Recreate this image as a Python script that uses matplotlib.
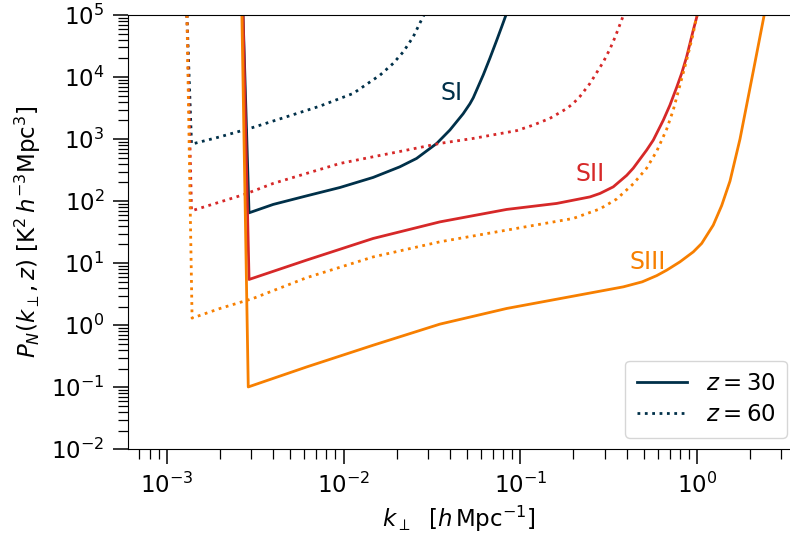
import matplotlib
matplotlib.use("Agg")
import matplotlib.pyplot as plt
from matplotlib.lines import Line2D

# ---- data ----
k_SI_30 = [2.70e-3, 2.92e-3, 4.00e-3, 6.18e-3, 9.55e-3, 1.47e-2, 2.08e-2, 2.59e-2, 3.37e-2,
           4.00e-2, 4.75e-2, 5.19e-2, 5.42e-2, 6.18e-2, 6.74e-2, 7.35e-2, 7.85e-2, 8.30e-2]
P_SI_30 = [1e5, 64.8, 88.5, 121.6, 166, 241, 357, 488, 853,
           1403, 2560, 3715, 4630, 10900, 20300, 38900, 64600, 1e5]

k_SI_60 = [1.30e-3, 1.38e-3, 2.00e-3, 3.08e-3, 4.76e-3, 7.35e-3, 1.135e-2, 1.61e-2, 1.91e-2,
           2.18e-2, 2.48e-2, 2.70e-2, 2.85e-2]
P_SI_60 = [1e5, 830, 1089, 1545, 2291, 3404, 5458, 10770, 16630,
           25590, 44670, 73500, 1e5]

k_SII_30 = [2.70e-3, 2.92e-3, 6.18e-3, 1.47e-2, 3.51e-2, 8.38e-2, 0.1607, 0.248, 0.2825, 0.336,
            0.400, 0.436, 0.519, 0.566, 0.645, 0.703, 0.767, 0.819, 0.874, 0.953, 1.004]
P_SII_30 = [1e5, 5.46, 11.2, 25.0, 46.3, 73.5, 91.8, 117, 133, 170,
            260, 340, 665, 964, 2023, 3532, 6800, 11480, 21230, 57300, 1e5]

k_SII_60 = [1.30e-3, 1.38e-3, 2.74e-3, 4.00e-3, 6.18e-3, 9.55e-3, 1.47e-2, 2.28e-2, 3.51e-2,
            5.42e-2, 9.55e-2, 0.1185, 0.147, 0.183, 0.1995, 0.218, 0.248, 0.295, 0.322, 0.344,
            0.384]
P_SII_60 = [1e5, 69.8, 128, 193, 280, 405, 519, 665, 853,
            1026, 1371, 1683, 2158, 3100, 3767, 4900, 7907, 17500, 28500, 44000,
            1e5]

k_SIII_30 = [2.66e-3, 2.89e-3, 6.18e-3, 1.47e-2, 3.51e-2, 8.38e-2, 0.1995, 0.383, 0.49, 0.592,
             0.674, 0.801, 0.953, 1.063, 1.236, 1.380, 1.537, 1.751, 2.083, 2.40]
P_SIII_30 = [1e5, 0.101, 0.212, 0.475, 1.04, 1.86, 2.94, 4.15, 5.0, 6.3,
             7.71, 10.5, 15.2, 20.8, 41.0, 85, 210, 1000, 12500, 1e5]

k_SIII_60 = [1.30e-3, 1.39e-3, 2.00e-3, 3.08e-3, 6.18e-3, 1.47e-2, 3.51e-2, 8.38e-2, 0.1995,
             0.2825, 0.351, 0.436, 0.519, 0.592, 0.674, 0.734, 0.801, 0.874, 0.953, 0.996]
P_SIII_60 = [1e5, 1.30, 1.86, 2.70, 5.83, 12.6, 22.1, 34.1, 52.6,
             75, 108, 190, 340, 640, 1450, 2938, 7400, 18790, 50700, 1e5]

labels = ["SI", "SII", "SIII"]
label_k = [0.041, 0.248, 0.528]
label_P = [5520, 272, 10.4]
legend_labels = [r"$z = 30$", r"$z = 60$"]

colors = ["#003049", "#d62828", "#f77f00"]

FS = 16.5
fig = plt.figure(figsize=(7.9, 5.38), dpi=100)
ax = fig.add_axes([0.162, 0.165, 0.838, 0.807])

series = [(k_SI_30, P_SI_30, k_SI_60, P_SI_60),
          (k_SII_30, P_SII_30, k_SII_60, P_SII_60),
          (k_SIII_30, P_SIII_30, k_SIII_60, P_SIII_60)]

lw = 2.0
for (k30, p30, k60, p60), c in zip(series, colors):
    ax.plot(k30, p30, color=c, lw=lw, ls="-")
    ax.plot(k60, p60, color=c, lw=lw, ls=":")

for t, kx, py, c in zip(labels, label_k, label_P, colors):
    ax.text(kx, py, t, color=c, fontsize=17, ha="center", va="center")

ax.set_xscale("log")
ax.set_yscale("log")
ax.set_xlim(6.03e-4, 3.36)
ax.set_ylim(1e-2, 1e5)

ax.spines["right"].set_visible(False)
ax.tick_params(which="major", length=11, width=1.1, labelsize=FS, direction="out", pad=6)
ax.tick_params(which="minor", length=7, width=0.9, direction="out")

ax.set_xlabel(r"$k_\perp\ \ [h\,\mathrm{Mpc}^{-1}]$", fontsize=FS, labelpad=4)
ax.set_ylabel(r"$P_N(k_\perp, z)$ $[\mathrm{K}^2\,h^{-3}\mathrm{Mpc}^3]$", fontsize=FS, labelpad=6)

handles = [Line2D([], [], color=colors[0], lw=lw, ls="-"),
           Line2D([], [], color=colors[0], lw=lw, ls=":")]
ax.legend(handles, legend_labels, loc="lower right", bbox_to_anchor=(0.995, 0.027),
          borderaxespad=0, fontsize=FS, handlelength=2.2, handletextpad=0.8,
          borderpad=0.5, labelspacing=0.35)

fig.savefig("out.png", dpi=100)
